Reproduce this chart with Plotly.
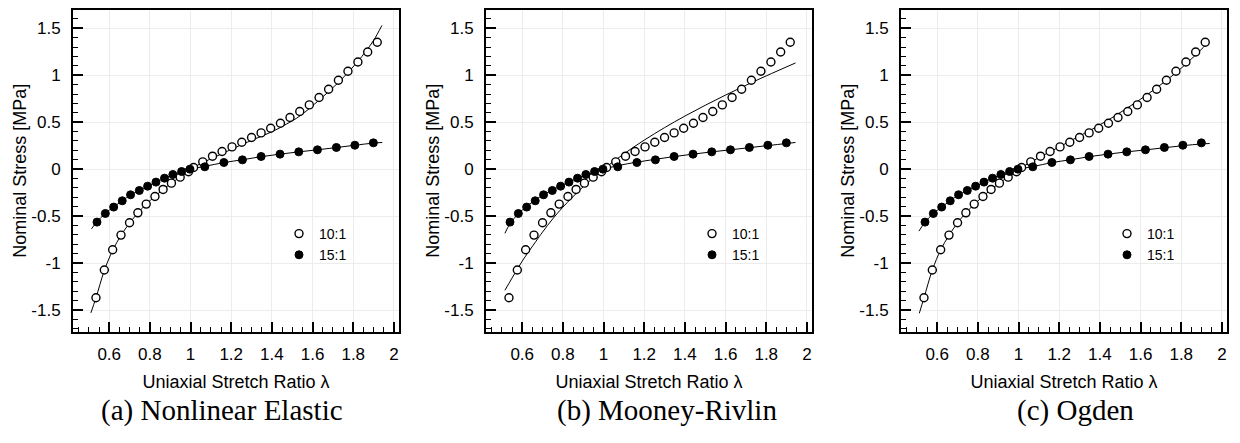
import plotly.graph_objects as go

# ---- experimental data (same in all panels) ----
lam_10 = [0.535, 0.576, 0.617, 0.658, 0.700, 0.741, 0.782, 0.825, 0.865, 0.906, 0.949, 0.990,
          1.015, 1.060, 1.108, 1.155, 1.204, 1.252, 1.300, 1.347, 1.394, 1.442, 1.489, 1.537,
          1.584, 1.632, 1.679, 1.727, 1.774, 1.823, 1.871, 1.918]
stress_10 = [-1.369, -1.074, -0.858, -0.702, -0.571, -0.465, -0.372, -0.291, -0.216, -0.149, -0.085, -0.028,
             0.018, 0.078, 0.138, 0.188, 0.237, 0.287, 0.337, 0.386, 0.436, 0.489, 0.550, 0.614,
             0.684, 0.763, 0.851, 0.947, 1.043, 1.141, 1.248, 1.351]
lam_15 = [0.540, 0.581, 0.622, 0.664, 0.705, 0.748, 0.789, 0.830, 0.872, 0.913, 0.956, 0.997,
          1.070, 1.164, 1.255, 1.347, 1.440, 1.532, 1.624, 1.717, 1.808, 1.899]
stress_15 = [-0.564, -0.472, -0.404, -0.337, -0.273, -0.227, -0.181, -0.138, -0.096, -0.057, -0.025, 0.0,
             0.025, 0.071, 0.099, 0.135, 0.160, 0.184, 0.206, 0.231, 0.255, 0.280]

# ---- fitted curves ----
fit_a_lam_10 = [0.51, 0.535, 0.576, 0.617, 0.658, 0.70, 0.741, 0.782, 0.825, 0.865, 0.906, 0.949, 1.0,
                1.06, 1.12, 1.18, 1.242, 1.32, 1.406, 1.47, 1.537, 1.635, 1.733, 1.823, 1.86, 1.90, 1.941]
fit_a_10 = [-1.53, -1.37, -1.08, -0.865, -0.705, -0.575, -0.467, -0.372, -0.29, -0.215, -0.148, -0.083, 0.0,
            0.07, 0.13, 0.19, 0.252, 0.325, 0.404, 0.478, 0.565, 0.741, 0.936, 1.149, 1.25, 1.37, 1.53]
fit_a_lam_15 = [0.513, 0.54, 0.581, 0.622, 0.664, 0.705, 0.748, 0.789, 0.83, 0.872, 0.913, 0.956, 1.0,
                1.07, 1.164, 1.255, 1.347, 1.44, 1.532, 1.624, 1.717, 1.808, 1.899, 1.943]
fit_a_15 = [-0.635, -0.56, -0.47, -0.402, -0.337, -0.275, -0.227, -0.181, -0.138, -0.097, -0.058, -0.026, 0.0,
            0.03, 0.07, 0.1, 0.133, 0.16, 0.184, 0.206, 0.23, 0.255, 0.277, 0.284]

fit_b_lam_10 = [0.515, 0.55, 0.6, 0.667, 0.7, 0.75, 0.8, 0.9, 1.0, 1.1, 1.2, 1.3, 1.4, 1.5, 1.6, 1.7, 1.8, 1.944]
fit_b_10 = [-1.29, -1.16, -0.98, -0.77, -0.67, -0.53, -0.405, -0.187, 0.0, 0.163, 0.309, 0.442, 0.565,
            0.68, 0.789, 0.893, 0.993, 1.131]
fit_b_lam_15 = [0.515, 0.54, 0.581, 0.622, 0.664, 0.705, 0.748, 0.789, 0.83, 0.872, 0.913, 0.956, 1.0,
                1.07, 1.164, 1.255, 1.347, 1.44, 1.532, 1.624, 1.717, 1.808, 1.899, 1.944]
fit_b_15 = [-0.684, -0.58, -0.475, -0.396, -0.33, -0.272, -0.222, -0.178, -0.137, -0.097, -0.06, -0.028, 0.0,
            0.037, 0.075, 0.105, 0.134, 0.16, 0.184, 0.206, 0.229, 0.251, 0.273, 0.284]

fit_c_lam_10 = [0.512, 0.535, 0.576, 0.617, 0.658, 0.70, 0.741, 0.782, 0.825, 0.865, 0.906, 0.949, 1.0,
                1.06, 1.12, 1.203, 1.28, 1.366, 1.45, 1.53, 1.60, 1.678, 1.776, 1.858, 1.931]
fit_c_10 = [-1.535, -1.37, -1.075, -0.86, -0.705, -0.572, -0.466, -0.374, -0.29, -0.216, -0.148, -0.082, 0.0,
            0.075, 0.145, 0.24, 0.33, 0.43, 0.535, 0.645, 0.745, 0.865, 1.03, 1.19, 1.345]
fit_c_lam_15 = [0.51, 0.54, 0.581, 0.622, 0.664, 0.705, 0.748, 0.789, 0.83, 0.872, 0.913, 0.956, 1.0,
                1.07, 1.164, 1.255, 1.347, 1.44, 1.532, 1.624, 1.717, 1.808, 1.899, 1.94]
fit_c_15 = [-0.66, -0.565, -0.472, -0.403, -0.337, -0.274, -0.227, -0.181, -0.138, -0.097, -0.058, -0.026, 0.0,
            0.027, 0.07, 0.1, 0.133, 0.16, 0.184, 0.205, 0.228, 0.25, 0.268, 0.273]

panel_titles = ["(a) Nonlinear Elastic", "(b) Mooney-Rivlin", "(c) Ogden"]
series_names = ["10:1", "15:1"]
x_tickvals = [0.6, 0.8, 1.0, 1.2, 1.4, 1.6, 1.8, 2.0]
x_ticktext = ["0.6", "0.8", "1", "1.2", "1.4", "1.6", "1.8", "2"]
y_tickvals = [-1.5, -1.0, -0.5, 0.0, 0.5, 1.0, 1.5]
y_ticktext = ["-1.5", "-1", "-0.5", "0", "0.5", "1", "1.5"]

fits = [
    (fit_a_lam_10, fit_a_10, fit_a_lam_15, fit_a_15),
    (fit_b_lam_10, fit_b_10, fit_b_lam_15, fit_b_15),
    (fit_c_lam_10, fit_c_10, fit_c_lam_15, fit_c_15),
]

# page has an 8px body margin: figure is drawn at (8, 8)
OFF = 8
W, H = 1240 - OFF, 443 - OFF
SANS = "Liberation Sans, Arial, Helvetica, sans-serif"
SERIF = "Liberation Serif, Times New Roman, serif"


def PX(px):
    return (px - OFF) / W


def PY(py):
    return 1 - (py - OFF) / H


# panel geometry in page pixels
panel_left = [73, 486, 901]
panel_width = 326
plot_top, plot_bottom = 9.5, 332
subtitle_cx = [222, 667, 1075]

fig = go.Figure()
for i in range(3):
    sfx = "" if i == 0 else str(i + 1)
    xa, ya = "x" + sfx, "y" + sfx
    leg = "legend" if i == 0 else "legend" + str(i + 1)
    l10, f10, l15, f15 = fits[i]
    fig.add_trace(go.Scatter(x=l10, y=f10, mode="lines", line=dict(color="black", width=1, shape="spline"),
                             xaxis=xa, yaxis=ya, showlegend=False, hoverinfo="skip"))
    fig.add_trace(go.Scatter(x=l15, y=f15, mode="lines", line=dict(color="black", width=1, shape="spline"),
                             xaxis=xa, yaxis=ya, showlegend=False, hoverinfo="skip"))
    fig.add_trace(go.Scatter(x=lam_10, y=stress_10, mode="markers", name=series_names[0],
                             marker=dict(symbol="circle", size=8, color="white",
                                         line=dict(color="black", width=1.4)),
                             xaxis=xa, yaxis=ya, legend=leg))
    fig.add_trace(go.Scatter(x=lam_15, y=stress_15, mode="markers", name=series_names[1],
                             marker=dict(symbol="circle", size=8, color="black",
                                         line=dict(color="black", width=1)),
                             xaxis=xa, yaxis=ya, legend=leg))

    common = dict(showline=True, linecolor="black", linewidth=2, mirror=True,
                  ticks="inside", tickcolor="black", tickwidth=2, ticklen=10,
                  showgrid=True, gridcolor="#ececec", gridwidth=1, zeroline=False,
                  automargin=False,
                  tickfont=dict(family=SANS, size=17, color="black"))
    fig.layout["xaxis" + sfx] = dict(
        domain=[PX(panel_left[i]), PX(panel_left[i] + panel_width)], anchor=ya, range=[0.422, 2.025],
        tickvals=x_tickvals, ticktext=x_ticktext, ticklabelstandoff=6,
        minor=dict(ticks="inside", ticklen=5, tickwidth=1, tickcolor="black", dtick=0.05, tick0=0, showgrid=False),
        title=dict(text="Uniaxial Stretch Ratio λ", font=dict(family=SANS, size=18, color="black"), standoff=12),
        **common)
    fig.layout["yaxis" + sfx] = dict(
        domain=[PY(plot_bottom), PY(plot_top)], anchor=xa, range=[-1.734, 1.70],
        tickvals=y_tickvals, ticktext=y_ticktext, ticklabelstandoff=7,
        minor=dict(ticks="inside", ticklen=5, tickwidth=1, tickcolor="black", dtick=0.1, tick0=0, showgrid=False),
        title=dict(text="Nominal Stress [MPa]", font=dict(family=SANS, size=18, color="black"), standoff=0),
        **common)
    fig.layout[leg] = dict(
        x=PX(panel_left[i] + 206), y=PY(218), xanchor="left", yanchor="top",
        xref="paper", yref="paper",
        bgcolor="rgba(0,0,0,0)", borderwidth=0,
        font=dict(family=SANS, size=14, color="black"),
        itemwidth=30, tracegroupgap=0)
    fig.add_annotation(text=panel_titles[i], x=PX(subtitle_cx[i]), y=PY(410),
                       xref="paper", yref="paper", xanchor="center", yanchor="middle",
                       showarrow=False, font=dict(family=SERIF, size=29, color="black"))

fig.update_layout(template="none", width=W, height=H, margin=dict(l=0, r=0, t=0, b=0),
                  paper_bgcolor="white", plot_bgcolor="white")
fig.write_html("out.html")
